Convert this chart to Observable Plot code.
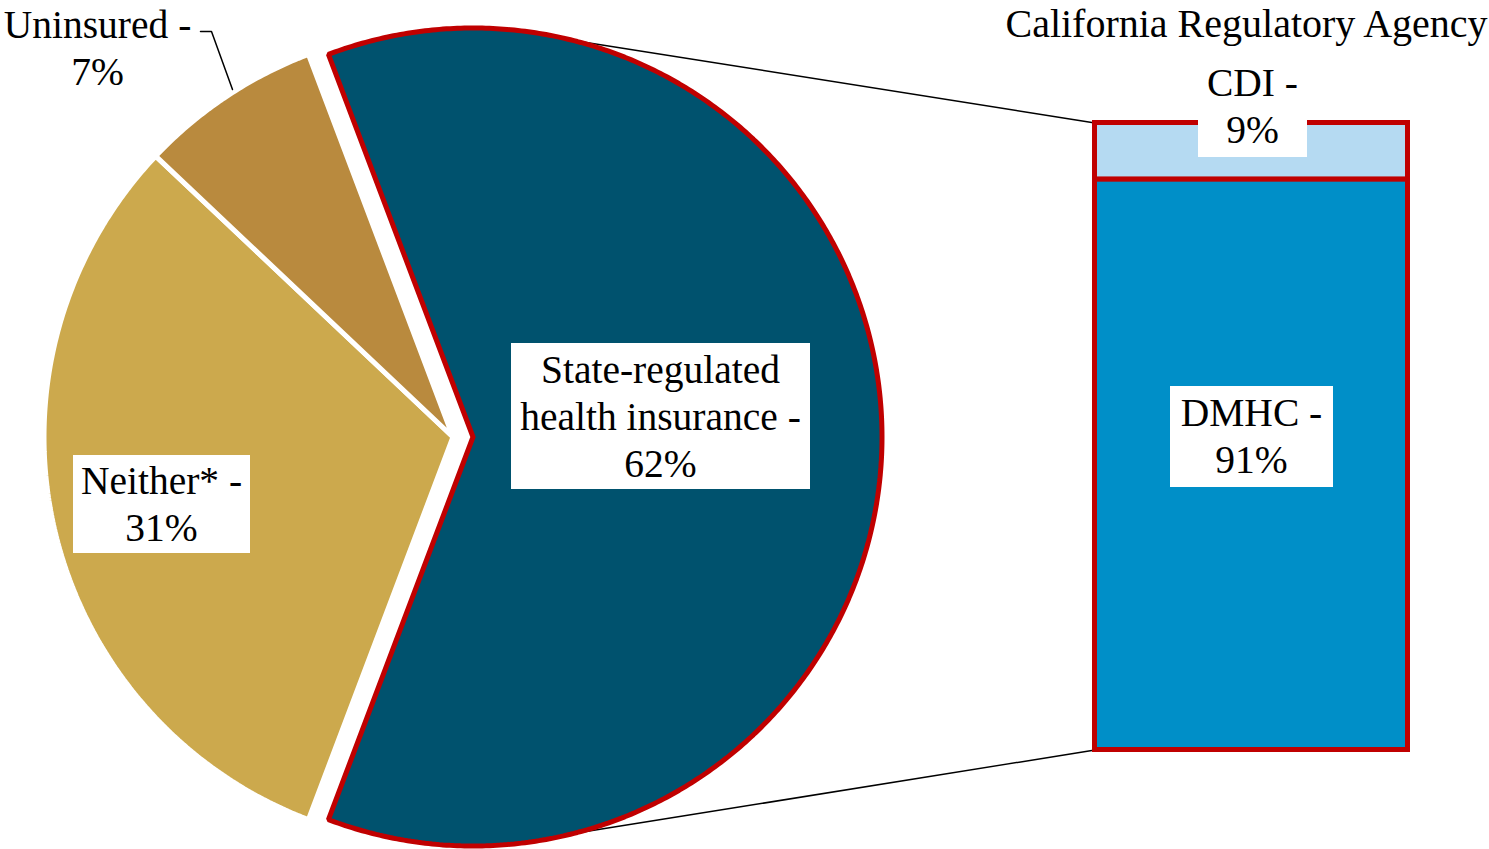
<!DOCTYPE html>
<html>
<head>
<meta charset="utf-8">
<script src="https://cdn.jsdelivr.net/npm/d3@7"></script>
<script src="https://cdn.jsdelivr.net/npm/@observablehq/plot@0.6"></script>
<style>
  html, body { margin: 0; padding: 0; background: #fff; }
  svg { display: block; }
</style>
</head>
<body>
<div id="chart"></div>
<script>
// ---- data ----
const pieCategories = ["State-regulated\nhealth insurance", "Neither*", "Uninsured"];
const pieValues = [61.5, 31.3, 7.2];          // shares of the pie (%)
const barCategories = ["DMHC", "CDI"];        // bottom to top
const barValues = [91, 9];                    // shares of the bar (%)
const barTitle = "California Regulatory Agency";

// ---- styles ----
const pieColors = ["#00526E", "#CCA94D", "#B98A3E"];
const barColors = ["#008FC8", "#B5DAF2"];
const outline = "#C00000";
const font = "'Liberation Serif', 'Times New Roman', serif";
const fs = 39.5;
const W = 1489, H = 849;

// ---- layout ----
const R = 409;
const cy = 436.5;
const baseCx = 452.5;     // centre of non-exploded slices
const explode = 20;       // horizontal offset of exploded slice
const bar = {x1: 1094.5, x2: 1407.5, y1: 122.5, y2: 749.5};

// ---- pie geometry (angles in degrees, clockwise from 12 o'clock) ----
const total = d3.sum(pieValues);
const spans = pieValues.map(v => v / total * 360);
let a0 = 90 - spans[0] / 2;
const slices = pieValues.map((v, i) => {
  const start = a0, end = a0 + spans[i];
  a0 = end;
  const cx = baseCx + (i === 0 ? explode : 0);
  const pts = [[cx, cy]];
  const n = Math.max(4, Math.ceil(spans[i] / 0.5));
  for (let k = 0; k <= n; k++) {
    const a = (start + (end - start) * k / n) * Math.PI / 180;
    pts.push([cx + R * Math.sin(a), cy - R * Math.cos(a)]);
  }
  pts.push([cx, cy]);
  return {name: pieCategories[i], value: v, start, end, cx, pts};
});

// connector lines: from the exploded slice rim to bar corners
const s0 = slices[0];
const rimPt = deg => [s0.cx + R * Math.sin(deg * Math.PI / 180), cy - R * Math.cos(deg * Math.PI / 180)];
const topRim = rimPt(14), botRim = rimPt(166);
const connectors = [
  {x1: topRim[0], y1: topRim[1], x2: bar.x1, y2: bar.y1},
  {x1: botRim[0], y1: botRim[1], x2: bar.x1, y2: bar.y2}
];

// bar segments (stacked, DMHC at bottom)
const barH = bar.y2 - bar.y1;
let cum = 0;
const segs = barValues.map((v, i) => {
  const yb = bar.y2 - cum / 100 * barH;
  cum += v;
  const yt = bar.y2 - cum / 100 * barH;
  return {name: barCategories[i], value: v, x1: bar.x1, x2: bar.x2, y1: yt, y2: yb, fill: barColors[i]};
});

// labels
const labels = [
  {text: `${pieCategories[0]} -\n${Math.round(pieValues[0])}%`, x: 660, y: 414.5, box: [511, 810, 343, 489]},
  {text: `${pieCategories[1]} -\n${Math.round(pieValues[1])}%`, x: 161, y: 502, box: [73, 250, 455, 553]},
  {text: `${pieCategories[2]} -\n${Math.round(pieValues[2])}%`, x: 97, y: 46, box: null},
  {text: `${barCategories[0]} -\n${barValues[0]}%`, x: 1251, y: 434, box: [1170, 1333, 386, 487]},
  {text: `${barCategories[1]} -\n${barValues[1]}%`, x: 1252, y: 104, box: [1198, 1307, 62, 157]}
];
const boxes = labels.filter(d => d.box).map(d => ({x1: d.box[0], x2: d.box[1], y1: d.box[2], y2: d.box[3]}));
const leader = [[200, 31], [211, 31], [232, 89]];

const sliceMarks = slices.map((s, i) => Plot.line(s.pts, {
  x: d => d[0], y: d => d[1],
  fill: pieColors[i],
  stroke: i === 0 ? outline : "white",
  strokeWidth: 5,
  strokeLinejoin: "miter",
  curve: "linear"
}));

const chart = Plot.plot({
  width: W, height: H,
  margin: 0,
  x: {domain: [0, W], range: [0, W], axis: null},
  y: {domain: [0, H], range: [0, H], axis: null},
  style: {background: "white", fontFamily: font},
  marks: [
    Plot.link(connectors, {x1: "x1", y1: "y1", x2: "x2", y2: "y2", stroke: "black", strokeWidth: 1.5}),
    sliceMarks.slice(1),
    sliceMarks[0],
    Plot.rect(segs, {x1: "x1", x2: "x2", y1: "y1", y2: "y2", fill: d => d.fill, stroke: outline, strokeWidth: 5}),
    Plot.rect(boxes, {x1: "x1", x2: "x2", y1: "y1", y2: "y2", fill: "white"}),
    Plot.line(leader, {x: d => d[0], y: d => d[1], stroke: "black", strokeWidth: 1.5}),
    Plot.text(labels, {x: "x", y: "y", text: "text", fontSize: fs, lineHeight: 1.18, fill: "black", fontFamily: font}),
    Plot.text([barTitle], {x: () => 1246, y: () => 8, text: d => d, lineAnchor: "top", fontSize: 40, fill: "black", fontFamily: font})
  ]
});
document.getElementById("chart").appendChild(chart);
</script>
</body>
</html>
